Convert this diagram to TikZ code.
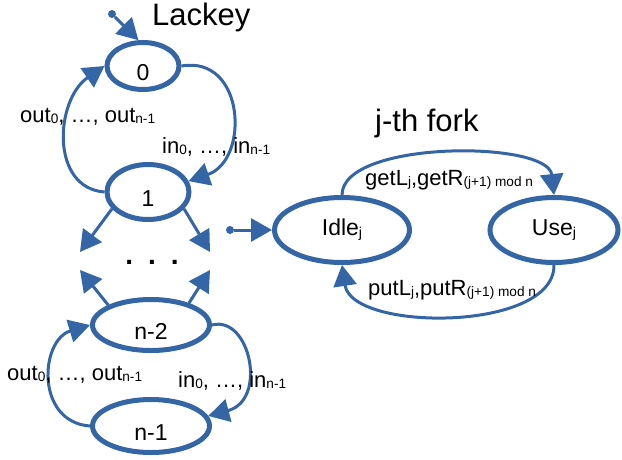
\documentclass[tikz,border=0pt]{standalone}
\usepackage{fontspec}
\usepackage{graphicx}
\setmainfont{Liberation Sans}
\usetikzlibrary{shapes.geometric,arrows.meta}
\definecolor{lb}{HTML}{3465A4}
\newcommand{\lsub}[1]{\raisebox{-0.09em}{\scalebox{0.62}{#1}}}
\begin{document}
\begin{tikzpicture}[x=1pt,y=-1pt,
  state/.style={ellipse,draw=lb,line width=5pt,inner sep=0pt,font=\fontsize{23}{27}\selectfont},
  lk/.style={text height=28pt,text depth=0pt},
  edge/.style={draw=lb,line width=3pt,-{Triangle[length=21pt,width=23pt]}},
  lbl/.style={font=\fontsize{22}{26}\selectfont,inner sep=0pt,anchor=base west},
  ttl/.style={font=\fontsize{31}{36}\selectfont,inner sep=0pt,anchor=base west},
  initdot/.style={circle,fill=lb,inner sep=0pt,minimum size=8pt}]
\useasboundingbox (0,0) rectangle (622,459);
% states
\node[state,lk,minimum width=72pt,minimum height=47pt] (n0) at (143,66) {0};
\node[state,lk,minimum width=82pt,minimum height=55pt] (n1) at (148,192) {1};
\node[state,lk,minimum width=117pt,minimum height=51pt] (n2) at (151,325) {n-2};
\node[state,lk,minimum width=117pt,minimum height=53pt] (n3) at (151,426) {n-1};
\node[state,minimum width=135pt,minimum height=65pt] (idle) at (342,230) {Idle\lsub{j}};
\node[state,minimum width=128pt,minimum height=65pt] (use) at (554,230) {Use\lsub{j}};
% titles
\node[ttl] (lackey) at (152,25) {Lackey};
\node[ttl] (fork) at (375,131) {j-th fork};
% initial arrows
\node[initdot] (s0) at (112,14) {};
\draw[edge] (s0) -- (n0.100);
\node[initdot] (s1) at (230,230) {};
\draw[edge] (s1) -- (idle.west);
% lackey edges
\draw[edge] (n0.east) .. controls (245,55) and (250,160) .. (n1.15);
\draw[edge] (n1.west) .. controls (50,188) and (55,100) .. (n0.180);
\draw[edge] (n2.east) .. controls (250,315) and (268,400) .. (n3.10);
\draw[edge] (n3.west) .. controls (35,422) and (40,340) .. (n2.180);
\coordinate (d1) at (80,252);
\coordinate (d2) at (210,252);
\coordinate (d3) at (80,270);
\coordinate (d4) at (210,270);
\draw[edge] (n1.205) -- (d1);
\draw[edge] (n1.335) -- (d2);
\draw[edge] (n2.155) -- (d3);
\draw[edge] (n2.30) -- (d4);
\node[font=\fontsize{28}{30}\selectfont\bfseries,anchor=base,inner sep=0pt] (dots) at (152,264) {.\hspace{15pt}.\hspace{15pt}.};
% fork edges
\draw[edge] (idle.north) .. controls (342,140) and (548,140) .. (use.north);
\draw[edge] (use.south) .. controls (555,332) and (352,332) .. (idle.south);
% labels
\node[lbl] (lo1) at (20,122) {out\lsub{0}, …, out\lsub{n-1}};
\node[lbl] (li1) at (162,153) {in\lsub{0}, …, in\lsub{n-1}};
\node[lbl] (lo2) at (7,380) {out\lsub{0}, …, out\lsub{n-1}};
\node[lbl] (li2) at (178,387) {in\lsub{0}, …, in\lsub{n-1}};
\node[lbl] (lg) at (365,185) {getL\lsub{j},getR\lsub{(j+1) mod n}};
\node[lbl] (lp) at (368,295) {putL\lsub{j},putR\lsub{(j+1) mod n}};
\end{tikzpicture}
\end{document}
